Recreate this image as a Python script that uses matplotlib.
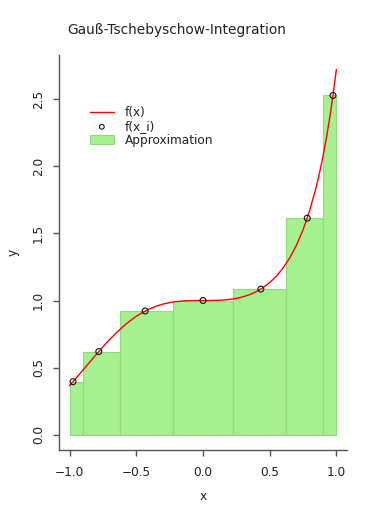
import numpy as np
import matplotlib.pyplot as plt

# Gauss-Chebyshev nodes (n = 7) and f(x_i)
x_nodes = [-0.9749, -0.7818, -0.4339, 0.0, 0.4339, 0.7818, 0.9749]
f_nodes = [0.396, 0.620, 0.922, 1.000, 1.085, 1.613, 2.526]

# bar edges
edges = [-1.0, -0.901, -0.623, -0.2225, 0.2225, 0.623, 0.901, 1.0]

# curve f(x)
x_curve = [-1.0, -0.95, -0.9, -0.85, -0.8, -0.75, -0.7, -0.65, -0.6, -0.55,
           -0.5, -0.45, -0.4, -0.35, -0.3, -0.25, -0.2, -0.15, -0.1, -0.05,
           0.0, 0.05, 0.1, 0.15, 0.2, 0.25, 0.3, 0.35, 0.4, 0.45,
           0.5, 0.55, 0.6, 0.65, 0.7, 0.75, 0.8, 0.85, 0.875, 0.9,
           0.925, 0.95, 0.975, 1.0]
y_curve = [0.3679, 0.4243, 0.4824, 0.5411, 0.5993, 0.6558, 0.7096, 0.7599, 0.8057, 0.8467,
           0.8825, 0.9129, 0.9380, 0.9580, 0.9734, 0.9845, 0.9920, 0.9966, 0.9990, 0.9999,
           1.0, 1.0001, 1.0010, 1.0034, 1.0080, 1.0157, 1.0274, 1.0438, 1.0661, 1.0954,
           1.1331, 1.1810, 1.2411, 1.3160, 1.4092, 1.5248, 1.6686, 1.8480, 1.9541, 2.0730,
           2.2066, 2.3569, 2.5266, 2.7183]

fs = 8.7

fig = plt.figure(figsize=(3.77, 5.22), dpi=100)
ax = fig.add_axes([59/377, (522-449.5)/522, 288/377, (449.5-55)/522])

lefts = edges[:-1]
widths = np.diff(edges)
ax.bar(lefts, f_nodes, width=widths, align='edge', color='#a6f090',
       edgecolor='#93d984', linewidth=0.8, label='Approximation', zorder=1)
ax.plot(x_curve, y_curve, color='red', linewidth=1, label='f(x)', zorder=2)
ax.scatter(x_nodes, f_nodes, s=18, facecolors='none', edgecolors='#111111',
           linewidths=0.8, label='f(x_i)', zorder=3)

ax.set_xlim(-1.08, 1.08)
ax.set_ylim(-0.1087, 2.827)
ax.set_xticks([-1.0, -0.5, 0.0, 0.5, 1.0])
ax.set_yticks([0.0, 0.5, 1.0, 1.5, 2.0, 2.5])
ax.set_xticklabels(['−1.0', '−0.5', '0.0', '0.5', '1.0'])
ax.set_yticklabels(['0.0', '0.5', '1.0', '1.5', '2.0', '2.5'], rotation=90, va='center')
for s in ['top', 'right']:
    ax.spines[s].set_visible(False)
for s in ['left', 'bottom']:
    ax.spines[s].set_color('#555555')
    ax.spines[s].set_linewidth(1)
ax.tick_params(colors='#555555', labelcolor='#222222', labelsize=fs, length=4, width=1)
ax.tick_params(axis='y', pad=6)
ax.tick_params(axis='x', pad=8)

ax.set_xlabel('x', fontsize=fs, color='#222222', labelpad=8)
ax.set_ylabel('y', fontsize=fs, color='#222222', labelpad=9)

fig.text(67/377, 1 - 30/522, 'Gauß-Tschebyschow-Integration', fontsize=9.9,
         color='#222222', va='center', ha='left')

h, l = ax.get_legend_handles_labels()
order = [l.index('f(x)'), l.index('f(x_i)'), l.index('Approximation')]
leg = ax.legend([h[i] for i in order], [l[i] for i in order], loc='upper left',
                bbox_to_anchor=(0.09, 0.882), frameon=False, fontsize=fs,
                handlelength=2.0, handletextpad=0.9, labelspacing=0.05,
                borderaxespad=0, markerscale=0.8)
for t in leg.get_texts():
    t.set_color('#222222')

fig.savefig('out.png', dpi=100)
